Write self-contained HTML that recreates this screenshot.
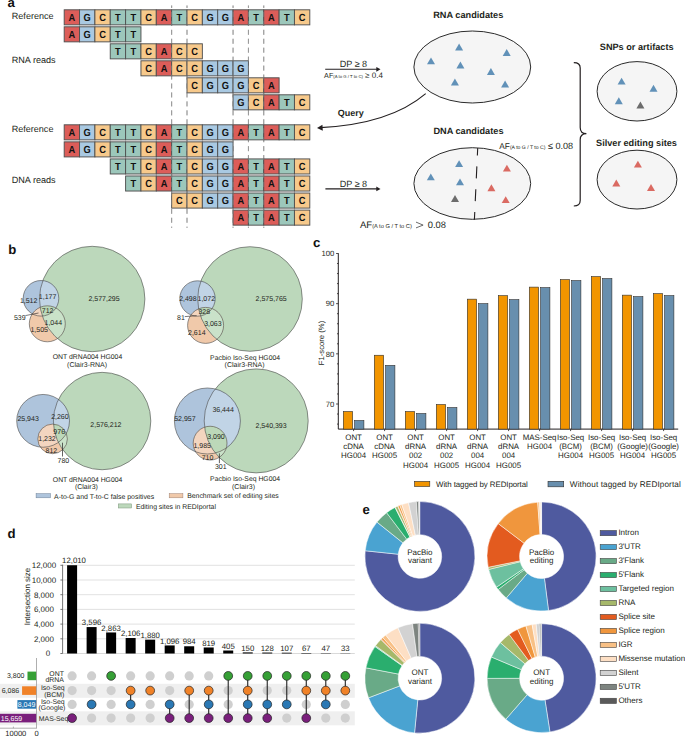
<!DOCTYPE html>
<html><head><meta charset="utf-8"><style>
html,body{margin:0;padding:0;background:#fff;}
body{width:685px;height:736px;overflow:hidden;}
svg{display:block;font-family:"Liberation Sans", sans-serif;text-rendering:geometricPrecision;}
</style></head><body>
<svg width="685" height="736" viewBox="0 0 685 736">
<line x1="171.65" y1="5.5" x2="171.65" y2="227.8" stroke="#8a8a8a" stroke-width="0.95" stroke-dasharray="5 3.95" stroke-dashoffset="2.55"/>
<line x1="187.00" y1="5.5" x2="187.00" y2="227.8" stroke="#8a8a8a" stroke-width="0.95" stroke-dasharray="5 3.95" stroke-dashoffset="2.55"/>
<line x1="233.05" y1="5.5" x2="233.05" y2="227.8" stroke="#8a8a8a" stroke-width="0.95" stroke-dasharray="5 3.95" stroke-dashoffset="2.55"/>
<line x1="248.40" y1="5.5" x2="248.40" y2="227.8" stroke="#8a8a8a" stroke-width="0.95" stroke-dasharray="5 3.95" stroke-dashoffset="2.55"/>
<line x1="263.75" y1="5.5" x2="263.75" y2="227.8" stroke="#8a8a8a" stroke-width="0.95" stroke-dasharray="5 3.95" stroke-dashoffset="2.55"/>
<rect x="64.20" y="9.80" width="15.35" height="15.05" fill="#dc5d59" stroke="#505050" stroke-width="0.95"/>
<text transform="translate(71.88,21.08) scale(0.9,1)" font-size="10.3" font-weight="bold" text-anchor="middle" fill="#111">A</text>
<rect x="79.55" y="9.80" width="15.35" height="15.05" fill="#a9c9e2" stroke="#505050" stroke-width="0.95"/>
<text transform="translate(87.22,21.08) scale(0.9,1)" font-size="10.3" font-weight="bold" text-anchor="middle" fill="#111">G</text>
<rect x="94.90" y="9.80" width="15.35" height="15.05" fill="#f7c98b" stroke="#505050" stroke-width="0.95"/>
<text transform="translate(102.58,21.08) scale(0.9,1)" font-size="10.3" font-weight="bold" text-anchor="middle" fill="#111">C</text>
<rect x="110.25" y="9.80" width="15.35" height="15.05" fill="#9cc7bb" stroke="#505050" stroke-width="0.95"/>
<text transform="translate(117.92,21.08) scale(0.9,1)" font-size="10.3" font-weight="bold" text-anchor="middle" fill="#111">T</text>
<rect x="125.60" y="9.80" width="15.35" height="15.05" fill="#9cc7bb" stroke="#505050" stroke-width="0.95"/>
<text transform="translate(133.28,21.08) scale(0.9,1)" font-size="10.3" font-weight="bold" text-anchor="middle" fill="#111">T</text>
<rect x="140.95" y="9.80" width="15.35" height="15.05" fill="#f7c98b" stroke="#505050" stroke-width="0.95"/>
<text transform="translate(148.62,21.08) scale(0.9,1)" font-size="10.3" font-weight="bold" text-anchor="middle" fill="#111">C</text>
<rect x="156.30" y="9.80" width="15.35" height="15.05" fill="#dc5d59" stroke="#505050" stroke-width="0.95"/>
<text transform="translate(163.98,21.08) scale(0.9,1)" font-size="10.3" font-weight="bold" text-anchor="middle" fill="#111">A</text>
<rect x="171.65" y="9.80" width="15.35" height="15.05" fill="#9cc7bb" stroke="#505050" stroke-width="0.95"/>
<text transform="translate(179.33,21.08) scale(0.9,1)" font-size="10.3" font-weight="bold" text-anchor="middle" fill="#111">T</text>
<rect x="187.00" y="9.80" width="15.35" height="15.05" fill="#f7c98b" stroke="#505050" stroke-width="0.95"/>
<text transform="translate(194.68,21.08) scale(0.9,1)" font-size="10.3" font-weight="bold" text-anchor="middle" fill="#111">C</text>
<rect x="202.35" y="9.80" width="15.35" height="15.05" fill="#a9c9e2" stroke="#505050" stroke-width="0.95"/>
<text transform="translate(210.03,21.08) scale(0.9,1)" font-size="10.3" font-weight="bold" text-anchor="middle" fill="#111">G</text>
<rect x="217.70" y="9.80" width="15.35" height="15.05" fill="#a9c9e2" stroke="#505050" stroke-width="0.95"/>
<text transform="translate(225.38,21.08) scale(0.9,1)" font-size="10.3" font-weight="bold" text-anchor="middle" fill="#111">G</text>
<rect x="233.05" y="9.80" width="15.35" height="15.05" fill="#dc5d59" stroke="#505050" stroke-width="0.95"/>
<text transform="translate(240.73,21.08) scale(0.9,1)" font-size="10.3" font-weight="bold" text-anchor="middle" fill="#111">A</text>
<rect x="248.40" y="9.80" width="15.35" height="15.05" fill="#9cc7bb" stroke="#505050" stroke-width="0.95"/>
<text transform="translate(256.07,21.08) scale(0.9,1)" font-size="10.3" font-weight="bold" text-anchor="middle" fill="#111">T</text>
<rect x="263.75" y="9.80" width="15.35" height="15.05" fill="#dc5d59" stroke="#505050" stroke-width="0.95"/>
<text transform="translate(271.43,21.08) scale(0.9,1)" font-size="10.3" font-weight="bold" text-anchor="middle" fill="#111">A</text>
<rect x="279.10" y="9.80" width="15.35" height="15.05" fill="#9cc7bb" stroke="#505050" stroke-width="0.95"/>
<text transform="translate(286.78,21.08) scale(0.9,1)" font-size="10.3" font-weight="bold" text-anchor="middle" fill="#111">T</text>
<rect x="294.45" y="9.80" width="15.35" height="15.05" fill="#f7c98b" stroke="#505050" stroke-width="0.95"/>
<text transform="translate(302.12,21.08) scale(0.9,1)" font-size="10.3" font-weight="bold" text-anchor="middle" fill="#111">C</text>
<rect x="64.20" y="26.80" width="15.35" height="15.05" fill="#dc5d59" stroke="#505050" stroke-width="0.95"/>
<text transform="translate(71.88,38.08) scale(0.9,1)" font-size="10.3" font-weight="bold" text-anchor="middle" fill="#111">A</text>
<rect x="79.55" y="26.80" width="15.35" height="15.05" fill="#a9c9e2" stroke="#505050" stroke-width="0.95"/>
<text transform="translate(87.22,38.08) scale(0.9,1)" font-size="10.3" font-weight="bold" text-anchor="middle" fill="#111">G</text>
<rect x="94.90" y="26.80" width="15.35" height="15.05" fill="#f7c98b" stroke="#505050" stroke-width="0.95"/>
<text transform="translate(102.58,38.08) scale(0.9,1)" font-size="10.3" font-weight="bold" text-anchor="middle" fill="#111">C</text>
<rect x="110.25" y="26.80" width="15.35" height="15.05" fill="#9cc7bb" stroke="#505050" stroke-width="0.95"/>
<text transform="translate(117.92,38.08) scale(0.9,1)" font-size="10.3" font-weight="bold" text-anchor="middle" fill="#111">T</text>
<rect x="125.60" y="26.80" width="15.35" height="15.05" fill="#9cc7bb" stroke="#505050" stroke-width="0.95"/>
<text transform="translate(133.28,38.08) scale(0.9,1)" font-size="10.3" font-weight="bold" text-anchor="middle" fill="#111">T</text>
<rect x="110.25" y="43.80" width="15.35" height="15.05" fill="#9cc7bb" stroke="#505050" stroke-width="0.95"/>
<text transform="translate(117.92,55.07) scale(0.9,1)" font-size="10.3" font-weight="bold" text-anchor="middle" fill="#111">T</text>
<rect x="125.60" y="43.80" width="15.35" height="15.05" fill="#9cc7bb" stroke="#505050" stroke-width="0.95"/>
<text transform="translate(133.28,55.07) scale(0.9,1)" font-size="10.3" font-weight="bold" text-anchor="middle" fill="#111">T</text>
<rect x="140.95" y="43.80" width="15.35" height="15.05" fill="#f7c98b" stroke="#505050" stroke-width="0.95"/>
<text transform="translate(148.62,55.07) scale(0.9,1)" font-size="10.3" font-weight="bold" text-anchor="middle" fill="#111">C</text>
<rect x="156.30" y="43.80" width="15.35" height="15.05" fill="#dc5d59" stroke="#505050" stroke-width="0.95"/>
<text transform="translate(163.98,55.07) scale(0.9,1)" font-size="10.3" font-weight="bold" text-anchor="middle" fill="#111">A</text>
<rect x="171.65" y="43.80" width="15.35" height="15.05" fill="#f7c98b" stroke="#505050" stroke-width="0.95"/>
<text transform="translate(179.33,55.07) scale(0.9,1)" font-size="10.3" font-weight="bold" text-anchor="middle" fill="#111">C</text>
<rect x="187.00" y="43.80" width="15.35" height="15.05" fill="#f7c98b" stroke="#505050" stroke-width="0.95"/>
<text transform="translate(194.68,55.07) scale(0.9,1)" font-size="10.3" font-weight="bold" text-anchor="middle" fill="#111">C</text>
<rect x="140.95" y="60.80" width="15.35" height="15.05" fill="#f7c98b" stroke="#505050" stroke-width="0.95"/>
<text transform="translate(148.62,72.08) scale(0.9,1)" font-size="10.3" font-weight="bold" text-anchor="middle" fill="#111">C</text>
<rect x="156.30" y="60.80" width="15.35" height="15.05" fill="#dc5d59" stroke="#505050" stroke-width="0.95"/>
<text transform="translate(163.98,72.08) scale(0.9,1)" font-size="10.3" font-weight="bold" text-anchor="middle" fill="#111">A</text>
<rect x="171.65" y="60.80" width="15.35" height="15.05" fill="#f7c98b" stroke="#505050" stroke-width="0.95"/>
<text transform="translate(179.33,72.08) scale(0.9,1)" font-size="10.3" font-weight="bold" text-anchor="middle" fill="#111">C</text>
<rect x="187.00" y="60.80" width="15.35" height="15.05" fill="#f7c98b" stroke="#505050" stroke-width="0.95"/>
<text transform="translate(194.68,72.08) scale(0.9,1)" font-size="10.3" font-weight="bold" text-anchor="middle" fill="#111">C</text>
<rect x="202.35" y="60.80" width="15.35" height="15.05" fill="#a9c9e2" stroke="#505050" stroke-width="0.95"/>
<text transform="translate(210.03,72.08) scale(0.9,1)" font-size="10.3" font-weight="bold" text-anchor="middle" fill="#111">G</text>
<rect x="217.70" y="60.80" width="15.35" height="15.05" fill="#a9c9e2" stroke="#505050" stroke-width="0.95"/>
<text transform="translate(225.38,72.08) scale(0.9,1)" font-size="10.3" font-weight="bold" text-anchor="middle" fill="#111">G</text>
<rect x="233.05" y="60.80" width="15.35" height="15.05" fill="#a9c9e2" stroke="#505050" stroke-width="0.95"/>
<text transform="translate(240.73,72.08) scale(0.9,1)" font-size="10.3" font-weight="bold" text-anchor="middle" fill="#111">G</text>
<rect x="187.00" y="77.80" width="15.35" height="15.05" fill="#f7c98b" stroke="#505050" stroke-width="0.95"/>
<text transform="translate(194.68,89.08) scale(0.9,1)" font-size="10.3" font-weight="bold" text-anchor="middle" fill="#111">C</text>
<rect x="202.35" y="77.80" width="15.35" height="15.05" fill="#a9c9e2" stroke="#505050" stroke-width="0.95"/>
<text transform="translate(210.03,89.08) scale(0.9,1)" font-size="10.3" font-weight="bold" text-anchor="middle" fill="#111">G</text>
<rect x="217.70" y="77.80" width="15.35" height="15.05" fill="#a9c9e2" stroke="#505050" stroke-width="0.95"/>
<text transform="translate(225.38,89.08) scale(0.9,1)" font-size="10.3" font-weight="bold" text-anchor="middle" fill="#111">G</text>
<rect x="233.05" y="77.80" width="15.35" height="15.05" fill="#a9c9e2" stroke="#505050" stroke-width="0.95"/>
<text transform="translate(240.73,89.08) scale(0.9,1)" font-size="10.3" font-weight="bold" text-anchor="middle" fill="#111">G</text>
<rect x="248.40" y="77.80" width="15.35" height="15.05" fill="#f7c98b" stroke="#505050" stroke-width="0.95"/>
<text transform="translate(256.07,89.08) scale(0.9,1)" font-size="10.3" font-weight="bold" text-anchor="middle" fill="#111">C</text>
<rect x="263.75" y="77.80" width="15.35" height="15.05" fill="#dc5d59" stroke="#505050" stroke-width="0.95"/>
<text transform="translate(271.43,89.08) scale(0.9,1)" font-size="10.3" font-weight="bold" text-anchor="middle" fill="#111">A</text>
<rect x="233.05" y="94.80" width="15.35" height="15.05" fill="#a9c9e2" stroke="#505050" stroke-width="0.95"/>
<text transform="translate(240.73,106.08) scale(0.9,1)" font-size="10.3" font-weight="bold" text-anchor="middle" fill="#111">G</text>
<rect x="248.40" y="94.80" width="15.35" height="15.05" fill="#f7c98b" stroke="#505050" stroke-width="0.95"/>
<text transform="translate(256.07,106.08) scale(0.9,1)" font-size="10.3" font-weight="bold" text-anchor="middle" fill="#111">C</text>
<rect x="263.75" y="94.80" width="15.35" height="15.05" fill="#dc5d59" stroke="#505050" stroke-width="0.95"/>
<text transform="translate(271.43,106.08) scale(0.9,1)" font-size="10.3" font-weight="bold" text-anchor="middle" fill="#111">A</text>
<rect x="279.10" y="94.80" width="15.35" height="15.05" fill="#9cc7bb" stroke="#505050" stroke-width="0.95"/>
<text transform="translate(286.78,106.08) scale(0.9,1)" font-size="10.3" font-weight="bold" text-anchor="middle" fill="#111">T</text>
<rect x="294.45" y="94.80" width="15.35" height="15.05" fill="#f7c98b" stroke="#505050" stroke-width="0.95"/>
<text transform="translate(302.12,106.08) scale(0.9,1)" font-size="10.3" font-weight="bold" text-anchor="middle" fill="#111">C</text>
<rect x="64.20" y="124.80" width="15.35" height="15.05" fill="#dc5d59" stroke="#505050" stroke-width="0.95"/>
<text transform="translate(71.88,136.07) scale(0.9,1)" font-size="10.3" font-weight="bold" text-anchor="middle" fill="#111">A</text>
<rect x="79.55" y="124.80" width="15.35" height="15.05" fill="#a9c9e2" stroke="#505050" stroke-width="0.95"/>
<text transform="translate(87.22,136.07) scale(0.9,1)" font-size="10.3" font-weight="bold" text-anchor="middle" fill="#111">G</text>
<rect x="94.90" y="124.80" width="15.35" height="15.05" fill="#f7c98b" stroke="#505050" stroke-width="0.95"/>
<text transform="translate(102.58,136.07) scale(0.9,1)" font-size="10.3" font-weight="bold" text-anchor="middle" fill="#111">C</text>
<rect x="110.25" y="124.80" width="15.35" height="15.05" fill="#9cc7bb" stroke="#505050" stroke-width="0.95"/>
<text transform="translate(117.92,136.07) scale(0.9,1)" font-size="10.3" font-weight="bold" text-anchor="middle" fill="#111">T</text>
<rect x="125.60" y="124.80" width="15.35" height="15.05" fill="#9cc7bb" stroke="#505050" stroke-width="0.95"/>
<text transform="translate(133.28,136.07) scale(0.9,1)" font-size="10.3" font-weight="bold" text-anchor="middle" fill="#111">T</text>
<rect x="140.95" y="124.80" width="15.35" height="15.05" fill="#f7c98b" stroke="#505050" stroke-width="0.95"/>
<text transform="translate(148.62,136.07) scale(0.9,1)" font-size="10.3" font-weight="bold" text-anchor="middle" fill="#111">C</text>
<rect x="156.30" y="124.80" width="15.35" height="15.05" fill="#dc5d59" stroke="#505050" stroke-width="0.95"/>
<text transform="translate(163.98,136.07) scale(0.9,1)" font-size="10.3" font-weight="bold" text-anchor="middle" fill="#111">A</text>
<rect x="171.65" y="124.80" width="15.35" height="15.05" fill="#9cc7bb" stroke="#505050" stroke-width="0.95"/>
<text transform="translate(179.33,136.07) scale(0.9,1)" font-size="10.3" font-weight="bold" text-anchor="middle" fill="#111">T</text>
<rect x="187.00" y="124.80" width="15.35" height="15.05" fill="#f7c98b" stroke="#505050" stroke-width="0.95"/>
<text transform="translate(194.68,136.07) scale(0.9,1)" font-size="10.3" font-weight="bold" text-anchor="middle" fill="#111">C</text>
<rect x="202.35" y="124.80" width="15.35" height="15.05" fill="#a9c9e2" stroke="#505050" stroke-width="0.95"/>
<text transform="translate(210.03,136.07) scale(0.9,1)" font-size="10.3" font-weight="bold" text-anchor="middle" fill="#111">G</text>
<rect x="217.70" y="124.80" width="15.35" height="15.05" fill="#a9c9e2" stroke="#505050" stroke-width="0.95"/>
<text transform="translate(225.38,136.07) scale(0.9,1)" font-size="10.3" font-weight="bold" text-anchor="middle" fill="#111">G</text>
<rect x="233.05" y="124.80" width="15.35" height="15.05" fill="#dc5d59" stroke="#505050" stroke-width="0.95"/>
<text transform="translate(240.73,136.07) scale(0.9,1)" font-size="10.3" font-weight="bold" text-anchor="middle" fill="#111">A</text>
<rect x="248.40" y="124.80" width="15.35" height="15.05" fill="#9cc7bb" stroke="#505050" stroke-width="0.95"/>
<text transform="translate(256.07,136.07) scale(0.9,1)" font-size="10.3" font-weight="bold" text-anchor="middle" fill="#111">T</text>
<rect x="263.75" y="124.80" width="15.35" height="15.05" fill="#dc5d59" stroke="#505050" stroke-width="0.95"/>
<text transform="translate(271.43,136.07) scale(0.9,1)" font-size="10.3" font-weight="bold" text-anchor="middle" fill="#111">A</text>
<rect x="279.10" y="124.80" width="15.35" height="15.05" fill="#9cc7bb" stroke="#505050" stroke-width="0.95"/>
<text transform="translate(286.78,136.07) scale(0.9,1)" font-size="10.3" font-weight="bold" text-anchor="middle" fill="#111">T</text>
<rect x="294.45" y="124.80" width="15.35" height="15.05" fill="#f7c98b" stroke="#505050" stroke-width="0.95"/>
<text transform="translate(302.12,136.07) scale(0.9,1)" font-size="10.3" font-weight="bold" text-anchor="middle" fill="#111">C</text>
<rect x="64.20" y="141.86" width="15.35" height="15.05" fill="#dc5d59" stroke="#505050" stroke-width="0.95"/>
<text transform="translate(71.88,153.13) scale(0.9,1)" font-size="10.3" font-weight="bold" text-anchor="middle" fill="#111">A</text>
<rect x="79.55" y="141.86" width="15.35" height="15.05" fill="#a9c9e2" stroke="#505050" stroke-width="0.95"/>
<text transform="translate(87.22,153.13) scale(0.9,1)" font-size="10.3" font-weight="bold" text-anchor="middle" fill="#111">G</text>
<rect x="94.90" y="141.86" width="15.35" height="15.05" fill="#f7c98b" stroke="#505050" stroke-width="0.95"/>
<text transform="translate(102.58,153.13) scale(0.9,1)" font-size="10.3" font-weight="bold" text-anchor="middle" fill="#111">C</text>
<rect x="110.25" y="141.86" width="15.35" height="15.05" fill="#9cc7bb" stroke="#505050" stroke-width="0.95"/>
<text transform="translate(117.92,153.13) scale(0.9,1)" font-size="10.3" font-weight="bold" text-anchor="middle" fill="#111">T</text>
<rect x="125.60" y="141.86" width="15.35" height="15.05" fill="#9cc7bb" stroke="#505050" stroke-width="0.95"/>
<text transform="translate(133.28,153.13) scale(0.9,1)" font-size="10.3" font-weight="bold" text-anchor="middle" fill="#111">T</text>
<rect x="140.95" y="141.86" width="15.35" height="15.05" fill="#f7c98b" stroke="#505050" stroke-width="0.95"/>
<text transform="translate(148.62,153.13) scale(0.9,1)" font-size="10.3" font-weight="bold" text-anchor="middle" fill="#111">C</text>
<rect x="156.30" y="141.86" width="15.35" height="15.05" fill="#dc5d59" stroke="#505050" stroke-width="0.95"/>
<text transform="translate(163.98,153.13) scale(0.9,1)" font-size="10.3" font-weight="bold" text-anchor="middle" fill="#111">A</text>
<rect x="171.65" y="141.86" width="15.35" height="15.05" fill="#9cc7bb" stroke="#505050" stroke-width="0.95"/>
<text transform="translate(179.33,153.13) scale(0.9,1)" font-size="10.3" font-weight="bold" text-anchor="middle" fill="#111">T</text>
<rect x="187.00" y="141.86" width="15.35" height="15.05" fill="#f7c98b" stroke="#505050" stroke-width="0.95"/>
<text transform="translate(194.68,153.13) scale(0.9,1)" font-size="10.3" font-weight="bold" text-anchor="middle" fill="#111">C</text>
<rect x="202.35" y="141.86" width="15.35" height="15.05" fill="#a9c9e2" stroke="#505050" stroke-width="0.95"/>
<text transform="translate(210.03,153.13) scale(0.9,1)" font-size="10.3" font-weight="bold" text-anchor="middle" fill="#111">G</text>
<rect x="217.70" y="141.86" width="15.35" height="15.05" fill="#a9c9e2" stroke="#505050" stroke-width="0.95"/>
<text transform="translate(225.38,153.13) scale(0.9,1)" font-size="10.3" font-weight="bold" text-anchor="middle" fill="#111">G</text>
<rect x="110.25" y="158.92" width="15.35" height="15.05" fill="#9cc7bb" stroke="#505050" stroke-width="0.95"/>
<text transform="translate(117.92,170.19) scale(0.9,1)" font-size="10.3" font-weight="bold" text-anchor="middle" fill="#111">T</text>
<rect x="125.60" y="158.92" width="15.35" height="15.05" fill="#9cc7bb" stroke="#505050" stroke-width="0.95"/>
<text transform="translate(133.28,170.19) scale(0.9,1)" font-size="10.3" font-weight="bold" text-anchor="middle" fill="#111">T</text>
<rect x="140.95" y="158.92" width="15.35" height="15.05" fill="#f7c98b" stroke="#505050" stroke-width="0.95"/>
<text transform="translate(148.62,170.19) scale(0.9,1)" font-size="10.3" font-weight="bold" text-anchor="middle" fill="#111">C</text>
<rect x="156.30" y="158.92" width="15.35" height="15.05" fill="#dc5d59" stroke="#505050" stroke-width="0.95"/>
<text transform="translate(163.98,170.19) scale(0.9,1)" font-size="10.3" font-weight="bold" text-anchor="middle" fill="#111">A</text>
<rect x="171.65" y="158.92" width="15.35" height="15.05" fill="#9cc7bb" stroke="#505050" stroke-width="0.95"/>
<text transform="translate(179.33,170.19) scale(0.9,1)" font-size="10.3" font-weight="bold" text-anchor="middle" fill="#111">T</text>
<rect x="187.00" y="158.92" width="15.35" height="15.05" fill="#f7c98b" stroke="#505050" stroke-width="0.95"/>
<text transform="translate(194.68,170.19) scale(0.9,1)" font-size="10.3" font-weight="bold" text-anchor="middle" fill="#111">C</text>
<rect x="202.35" y="158.92" width="15.35" height="15.05" fill="#a9c9e2" stroke="#505050" stroke-width="0.95"/>
<text transform="translate(210.03,170.19) scale(0.9,1)" font-size="10.3" font-weight="bold" text-anchor="middle" fill="#111">G</text>
<rect x="217.70" y="158.92" width="15.35" height="15.05" fill="#a9c9e2" stroke="#505050" stroke-width="0.95"/>
<text transform="translate(225.38,170.19) scale(0.9,1)" font-size="10.3" font-weight="bold" text-anchor="middle" fill="#111">G</text>
<rect x="233.05" y="158.92" width="15.35" height="15.05" fill="#dc5d59" stroke="#505050" stroke-width="0.95"/>
<text transform="translate(240.73,170.19) scale(0.9,1)" font-size="10.3" font-weight="bold" text-anchor="middle" fill="#111">A</text>
<rect x="248.40" y="158.92" width="15.35" height="15.05" fill="#9cc7bb" stroke="#505050" stroke-width="0.95"/>
<text transform="translate(256.07,170.19) scale(0.9,1)" font-size="10.3" font-weight="bold" text-anchor="middle" fill="#111">T</text>
<rect x="263.75" y="158.92" width="15.35" height="15.05" fill="#dc5d59" stroke="#505050" stroke-width="0.95"/>
<text transform="translate(271.43,170.19) scale(0.9,1)" font-size="10.3" font-weight="bold" text-anchor="middle" fill="#111">A</text>
<rect x="279.10" y="158.92" width="15.35" height="15.05" fill="#9cc7bb" stroke="#505050" stroke-width="0.95"/>
<text transform="translate(286.78,170.19) scale(0.9,1)" font-size="10.3" font-weight="bold" text-anchor="middle" fill="#111">T</text>
<rect x="294.45" y="158.92" width="15.35" height="15.05" fill="#f7c98b" stroke="#505050" stroke-width="0.95"/>
<text transform="translate(302.12,170.19) scale(0.9,1)" font-size="10.3" font-weight="bold" text-anchor="middle" fill="#111">C</text>
<rect x="125.60" y="175.98" width="15.35" height="15.05" fill="#9cc7bb" stroke="#505050" stroke-width="0.95"/>
<text transform="translate(133.28,187.25) scale(0.9,1)" font-size="10.3" font-weight="bold" text-anchor="middle" fill="#111">T</text>
<rect x="140.95" y="175.98" width="15.35" height="15.05" fill="#f7c98b" stroke="#505050" stroke-width="0.95"/>
<text transform="translate(148.62,187.25) scale(0.9,1)" font-size="10.3" font-weight="bold" text-anchor="middle" fill="#111">C</text>
<rect x="156.30" y="175.98" width="15.35" height="15.05" fill="#dc5d59" stroke="#505050" stroke-width="0.95"/>
<text transform="translate(163.98,187.25) scale(0.9,1)" font-size="10.3" font-weight="bold" text-anchor="middle" fill="#111">A</text>
<rect x="171.65" y="175.98" width="15.35" height="15.05" fill="#9cc7bb" stroke="#505050" stroke-width="0.95"/>
<text transform="translate(179.33,187.25) scale(0.9,1)" font-size="10.3" font-weight="bold" text-anchor="middle" fill="#111">T</text>
<rect x="187.00" y="175.98" width="15.35" height="15.05" fill="#f7c98b" stroke="#505050" stroke-width="0.95"/>
<text transform="translate(194.68,187.25) scale(0.9,1)" font-size="10.3" font-weight="bold" text-anchor="middle" fill="#111">C</text>
<rect x="202.35" y="175.98" width="15.35" height="15.05" fill="#a9c9e2" stroke="#505050" stroke-width="0.95"/>
<text transform="translate(210.03,187.25) scale(0.9,1)" font-size="10.3" font-weight="bold" text-anchor="middle" fill="#111">G</text>
<rect x="217.70" y="175.98" width="15.35" height="15.05" fill="#a9c9e2" stroke="#505050" stroke-width="0.95"/>
<text transform="translate(225.38,187.25) scale(0.9,1)" font-size="10.3" font-weight="bold" text-anchor="middle" fill="#111">G</text>
<rect x="233.05" y="175.98" width="15.35" height="15.05" fill="#dc5d59" stroke="#505050" stroke-width="0.95"/>
<text transform="translate(240.73,187.25) scale(0.9,1)" font-size="10.3" font-weight="bold" text-anchor="middle" fill="#111">A</text>
<rect x="248.40" y="175.98" width="15.35" height="15.05" fill="#9cc7bb" stroke="#505050" stroke-width="0.95"/>
<text transform="translate(256.07,187.25) scale(0.9,1)" font-size="10.3" font-weight="bold" text-anchor="middle" fill="#111">T</text>
<rect x="263.75" y="175.98" width="15.35" height="15.05" fill="#dc5d59" stroke="#505050" stroke-width="0.95"/>
<text transform="translate(271.43,187.25) scale(0.9,1)" font-size="10.3" font-weight="bold" text-anchor="middle" fill="#111">A</text>
<rect x="279.10" y="175.98" width="15.35" height="15.05" fill="#9cc7bb" stroke="#505050" stroke-width="0.95"/>
<text transform="translate(286.78,187.25) scale(0.9,1)" font-size="10.3" font-weight="bold" text-anchor="middle" fill="#111">T</text>
<rect x="294.45" y="175.98" width="15.35" height="15.05" fill="#f7c98b" stroke="#505050" stroke-width="0.95"/>
<text transform="translate(302.12,187.25) scale(0.9,1)" font-size="10.3" font-weight="bold" text-anchor="middle" fill="#111">C</text>
<rect x="171.65" y="193.04" width="15.35" height="15.05" fill="#f7c98b" stroke="#505050" stroke-width="0.95"/>
<text transform="translate(179.33,204.31) scale(0.9,1)" font-size="10.3" font-weight="bold" text-anchor="middle" fill="#111">C</text>
<rect x="187.00" y="193.04" width="15.35" height="15.05" fill="#f7c98b" stroke="#505050" stroke-width="0.95"/>
<text transform="translate(194.68,204.31) scale(0.9,1)" font-size="10.3" font-weight="bold" text-anchor="middle" fill="#111">C</text>
<rect x="202.35" y="193.04" width="15.35" height="15.05" fill="#a9c9e2" stroke="#505050" stroke-width="0.95"/>
<text transform="translate(210.03,204.31) scale(0.9,1)" font-size="10.3" font-weight="bold" text-anchor="middle" fill="#111">G</text>
<rect x="217.70" y="193.04" width="15.35" height="15.05" fill="#a9c9e2" stroke="#505050" stroke-width="0.95"/>
<text transform="translate(225.38,204.31) scale(0.9,1)" font-size="10.3" font-weight="bold" text-anchor="middle" fill="#111">G</text>
<rect x="233.05" y="193.04" width="15.35" height="15.05" fill="#dc5d59" stroke="#505050" stroke-width="0.95"/>
<text transform="translate(240.73,204.31) scale(0.9,1)" font-size="10.3" font-weight="bold" text-anchor="middle" fill="#111">A</text>
<rect x="248.40" y="193.04" width="15.35" height="15.05" fill="#9cc7bb" stroke="#505050" stroke-width="0.95"/>
<text transform="translate(256.07,204.31) scale(0.9,1)" font-size="10.3" font-weight="bold" text-anchor="middle" fill="#111">T</text>
<rect x="263.75" y="193.04" width="15.35" height="15.05" fill="#dc5d59" stroke="#505050" stroke-width="0.95"/>
<text transform="translate(271.43,204.31) scale(0.9,1)" font-size="10.3" font-weight="bold" text-anchor="middle" fill="#111">A</text>
<rect x="279.10" y="193.04" width="15.35" height="15.05" fill="#9cc7bb" stroke="#505050" stroke-width="0.95"/>
<text transform="translate(286.78,204.31) scale(0.9,1)" font-size="10.3" font-weight="bold" text-anchor="middle" fill="#111">T</text>
<rect x="294.45" y="193.04" width="15.35" height="15.05" fill="#f7c98b" stroke="#505050" stroke-width="0.95"/>
<text transform="translate(302.12,204.31) scale(0.9,1)" font-size="10.3" font-weight="bold" text-anchor="middle" fill="#111">C</text>
<rect x="233.05" y="210.10" width="15.35" height="15.05" fill="#dc5d59" stroke="#505050" stroke-width="0.95"/>
<text transform="translate(240.73,221.38) scale(0.9,1)" font-size="10.3" font-weight="bold" text-anchor="middle" fill="#111">A</text>
<rect x="248.40" y="210.10" width="15.35" height="15.05" fill="#9cc7bb" stroke="#505050" stroke-width="0.95"/>
<text transform="translate(256.07,221.38) scale(0.9,1)" font-size="10.3" font-weight="bold" text-anchor="middle" fill="#111">T</text>
<rect x="263.75" y="210.10" width="15.35" height="15.05" fill="#dc5d59" stroke="#505050" stroke-width="0.95"/>
<text transform="translate(271.43,221.38) scale(0.9,1)" font-size="10.3" font-weight="bold" text-anchor="middle" fill="#111">A</text>
<rect x="279.10" y="210.10" width="15.35" height="15.05" fill="#9cc7bb" stroke="#505050" stroke-width="0.95"/>
<text transform="translate(286.78,221.38) scale(0.9,1)" font-size="10.3" font-weight="bold" text-anchor="middle" fill="#111">T</text>
<rect x="294.45" y="210.10" width="15.35" height="15.05" fill="#f7c98b" stroke="#505050" stroke-width="0.95"/>
<text transform="translate(302.12,221.38) scale(0.9,1)" font-size="10.3" font-weight="bold" text-anchor="middle" fill="#111">C</text>
<line x1="171.65" y1="5.5" x2="171.65" y2="227.8" stroke="#9a9a9a" stroke-width="0.8" stroke-dasharray="5 3.95" stroke-dashoffset="2.55" opacity="0.6"/>
<line x1="187.00" y1="5.5" x2="187.00" y2="227.8" stroke="#9a9a9a" stroke-width="0.8" stroke-dasharray="5 3.95" stroke-dashoffset="2.55" opacity="0.6"/>
<line x1="233.05" y1="5.5" x2="233.05" y2="227.8" stroke="#9a9a9a" stroke-width="0.8" stroke-dasharray="5 3.95" stroke-dashoffset="2.55" opacity="0.6"/>
<line x1="248.40" y1="5.5" x2="248.40" y2="227.8" stroke="#9a9a9a" stroke-width="0.8" stroke-dasharray="5 3.95" stroke-dashoffset="2.55" opacity="0.6"/>
<line x1="263.75" y1="5.5" x2="263.75" y2="227.8" stroke="#9a9a9a" stroke-width="0.8" stroke-dasharray="5 3.95" stroke-dashoffset="2.55" opacity="0.6"/>
<text x="7.60" y="7.30" font-size="13.2" font-weight="bold" fill="#111">a</text>
<text x="11.80" y="18.80" font-size="9.06" fill="#231f20">Reference</text>
<text x="11.70" y="62.80" font-size="9.1" fill="#231f20">RNA reads</text>
<text x="11.70" y="132.00" font-size="9.06" fill="#231f20">Reference</text>
<text x="11.70" y="182.60" font-size="9.1" fill="#231f20">DNA reads</text>
<line x1="325.2" y1="69.3" x2="377.5" y2="69.3" stroke="#231f20" stroke-width="1.1"/>
<path d="M380.5,69.3 L376.3,66.89999999999999 L376.3,71.7 Z" fill="#231f20"/>
<text x="339.70" y="66.80" font-size="9.07" fill="#231f20">DP ≥ 8</text>
<text x="324.1" y="77.7" fill="#231f20"><tspan font-size="7.2">AF</tspan><tspan font-size="4.25">(A to G / T to C)</tspan><tspan font-size="8.0"> ≥ 0.4</tspan></text>
<ellipse cx="472.3" cy="67" rx="58.4" ry="36" fill="#f5f5f5" stroke="#2b2b2b" stroke-width="1"/>
<text x="433.20" y="17.91" font-size="9.2" font-weight="bold" fill="#231f20">RNA candidates</text>
<path d="M459.10,43.60 L463.10,50.50 L455.10,50.50 Z" fill="#6191b8"/>
<path d="M506.70,49.00 L510.70,55.90 L502.70,55.90 Z" fill="#6191b8"/>
<path d="M431.00,57.40 L435.00,64.30 L427.00,64.30 Z" fill="#6191b8"/>
<path d="M460.40,61.60 L464.40,68.50 L456.40,68.50 Z" fill="#6191b8"/>
<path d="M490.90,68.00 L494.90,74.90 L486.90,74.90 Z" fill="#6191b8"/>
<path d="M454.90,78.50 L458.90,85.40 L450.90,85.40 Z" fill="#6191b8"/>
<path d="M505.10,80.60 L509.10,87.50 L501.10,87.50 Z" fill="#6191b8"/>
<path d="M425.7,93.6 Q390,124 320.5,127.6" fill="none" stroke="#231f20" stroke-width="1.1"/>
<path d="M317.0,127.9 L322.4,124.7 L322.8,130.8 Z" fill="#231f20"/>
<text x="337.80" y="116.24" font-size="9.0" font-weight="bold" fill="#231f20">Query</text>
<line x1="325.4" y1="188.9" x2="377.5" y2="188.9" stroke="#231f20" stroke-width="1.1"/>
<path d="M380.5,188.9 L376.3,186.5 L376.3,191.3 Z" fill="#231f20"/>
<text x="339.70" y="187.10" font-size="9.07" fill="#231f20">DP ≥ 8</text>
<ellipse cx="472.3" cy="183.5" rx="58.4" ry="35.8" fill="#f5f5f5" stroke="#2b2b2b" stroke-width="1"/>
<text x="433.40" y="134.31" font-size="9.2" font-weight="bold" fill="#231f20">DNA candidates</text>
<line x1="477.7" y1="148.1" x2="474.4" y2="219.8" stroke="#231f20" stroke-width="1.1" stroke-dasharray="12 10.8" stroke-dashoffset="4.5"/>
<path d="M459.10,160.20 L463.10,167.10 L455.10,167.10 Z" fill="#6191b8"/>
<path d="M430.80,173.40 L434.80,180.30 L426.80,180.30 Z" fill="#6191b8"/>
<path d="M460.00,178.40 L464.00,185.30 L456.00,185.30 Z" fill="#6191b8"/>
<path d="M455.00,195.00 L459.00,201.90 L451.00,201.90 Z" fill="#6c6c6c"/>
<path d="M506.90,164.70 L510.90,171.60 L502.90,171.60 Z" fill="#da6a62"/>
<path d="M491.40,184.30 L495.40,191.20 L487.40,191.20 Z" fill="#da6a62"/>
<path d="M505.70,196.20 L509.70,203.10 L501.70,203.10 Z" fill="#da6a62"/>
<text x="499.3" y="148.9" fill="#231f20"><tspan font-size="8.3">AF</tspan><tspan font-size="5.1">(A to G / T to C)</tspan><tspan font-size="9.1"> ≤ 0.08</tspan></text>
<text x="359.9" y="228.0" fill="#231f20"><tspan font-size="9.6">AF</tspan><tspan font-size="5.7">(A to G / T to C)</tspan></text>
<path d="M416,222.1 L423.1,225.1 L416,227.9" fill="none" stroke="#3a3a3a" stroke-width="0.75"/>
<text x="427.70" y="227.90" font-size="9.4" fill="#231f20">0.08</text>
<path d="M573.8,62.7 Q580.2,62.7 580.2,68 L580.2,127.5 Q580.2,133.6 586.4,133.6 Q580.2,133.6 580.2,139.7 L580.2,200.5 Q580.2,206 573.8,206" fill="none" stroke="#231f20" stroke-width="1.2"/>
<ellipse cx="637" cy="91.3" rx="39.9" ry="29.7" fill="#f5f5f5" stroke="#2b2b2b" stroke-width="1"/>
<text x="636.70" y="50.10" font-size="9.17" font-weight="bold" text-anchor="middle" fill="#231f20">SNPs or artifacts</text>
<path d="M621.60,77.70 L625.60,84.60 L617.60,84.60 Z" fill="#6191b8"/>
<path d="M653.50,84.80 L657.50,91.70 L649.50,91.70 Z" fill="#6191b8"/>
<path d="M618.80,97.30 L622.80,104.20 L614.80,104.20 Z" fill="#6191b8"/>
<path d="M640.40,101.60 L644.40,108.50 L636.40,108.50 Z" fill="#6c6c6c"/>
<ellipse cx="637" cy="179.6" rx="39.9" ry="29.4" fill="#f5f5f5" stroke="#2b2b2b" stroke-width="1"/>
<text x="636.50" y="146.40" font-size="9.16" font-weight="bold" text-anchor="middle" fill="#231f20">Silver editing sites</text>
<path d="M637.90,160.70 L641.90,167.60 L633.90,167.60 Z" fill="#da6a62"/>
<path d="M616.30,179.50 L620.30,186.40 L612.30,186.40 Z" fill="#da6a62"/>
<path d="M651.00,184.10 L655.00,191.00 L647.00,191.00 Z" fill="#da6a62"/>
<defs><clipPath id="cg1"><circle cx="92.2" cy="299" r="52.7"/></clipPath><clipPath id="cb1"><circle cx="41" cy="298.3" r="17.8"/></clipPath><clipPath id="co1"><circle cx="47.3" cy="323.8" r="18"/></clipPath></defs>
<circle cx="92.2" cy="299" r="52.7" fill="#bcd8bb"/>
<circle cx="41" cy="298.3" r="17.8" fill="#aec4dc"/>
<circle cx="47.3" cy="323.8" r="18" fill="#f0c9aa"/>
<g clip-path="url(#cg1)"><circle cx="41" cy="298.3" r="17.8" fill="#c1d4e6"/><circle cx="47.3" cy="323.8" r="18" fill="#cae2c9"/></g>
<g clip-path="url(#cb1)"><circle cx="47.3" cy="323.8" r="18" fill="#f3d5bf"/></g>
<g clip-path="url(#cb1)"><g clip-path="url(#cg1)"><circle cx="47.3" cy="323.8" r="18" fill="#bcd8b9"/></g></g>
<circle cx="92.2" cy="299" r="52.7" fill="none" stroke="#484848" stroke-width="0.6"/>
<circle cx="41" cy="298.3" r="17.8" fill="none" stroke="#484848" stroke-width="0.6"/>
<circle cx="47.3" cy="323.8" r="18" fill="none" stroke="#484848" stroke-width="0.6"/>
<text x="28.65" y="302.82" font-size="7.0" text-anchor="middle" fill="#231f20">1,512</text>
<text x="47.60" y="299.32" font-size="7.0" text-anchor="middle" fill="#231f20">1,177</text>
<text x="47.60" y="312.82" font-size="7.0" text-anchor="middle" fill="#231f20">712</text>
<text x="19.80" y="319.72" font-size="7.0" text-anchor="middle" fill="#231f20">539</text>
<text x="53.30" y="324.72" font-size="7.0" text-anchor="middle" fill="#231f20">1,044</text>
<text x="39.20" y="332.22" font-size="7.0" text-anchor="middle" fill="#231f20">1,505</text>
<text x="104.00" y="300.92" font-size="7.0" text-anchor="middle" fill="#231f20">2,577,295</text>
<line x1="25.4" y1="315.6" x2="38.5" y2="313" stroke="#231f20" stroke-width="0.6"/>
<text x="87.50" y="359.07" font-size="6.85" text-anchor="middle" fill="#231f20">ONT dRNA004 HG004</text>
<text x="87.10" y="366.52" font-size="7.0" text-anchor="middle" fill="#231f20">(Clair3-RNA)</text>
<defs><clipPath id="cg2"><circle cx="250" cy="299" r="52.3"/></clipPath><clipPath id="cb2"><circle cx="197.5" cy="298.5" r="17.7"/></clipPath><clipPath id="co2"><circle cx="205.6" cy="325.4" r="18"/></clipPath></defs>
<circle cx="250" cy="299" r="52.3" fill="#bcd8bb"/>
<circle cx="197.5" cy="298.5" r="17.7" fill="#aec4dc"/>
<circle cx="205.6" cy="325.4" r="18" fill="#f0c9aa"/>
<g clip-path="url(#cg2)"><circle cx="197.5" cy="298.5" r="17.7" fill="#c1d4e6"/><circle cx="205.6" cy="325.4" r="18" fill="#cae2c9"/></g>
<g clip-path="url(#cb2)"><circle cx="205.6" cy="325.4" r="18" fill="#f3d5bf"/></g>
<g clip-path="url(#cb2)"><g clip-path="url(#cg2)"><circle cx="205.6" cy="325.4" r="18" fill="#bcd8b9"/></g></g>
<circle cx="250" cy="299" r="52.3" fill="none" stroke="#484848" stroke-width="0.6"/>
<circle cx="197.5" cy="298.5" r="17.7" fill="none" stroke="#484848" stroke-width="0.6"/>
<circle cx="205.6" cy="325.4" r="18" fill="none" stroke="#484848" stroke-width="0.6"/>
<text x="187.90" y="301.32" font-size="7.0" text-anchor="middle" fill="#231f20">2,498</text>
<text x="206.30" y="301.32" font-size="7.0" text-anchor="middle" fill="#231f20">1,072</text>
<text x="204.30" y="313.52" font-size="7.0" text-anchor="middle" fill="#231f20">328</text>
<text x="180.90" y="319.72" font-size="7.0" text-anchor="middle" fill="#231f20">81</text>
<text x="212.90" y="325.82" font-size="7.0" text-anchor="middle" fill="#231f20">3,063</text>
<text x="196.80" y="335.22" font-size="7.0" text-anchor="middle" fill="#231f20">2,614</text>
<text x="271.20" y="300.92" font-size="7.0" text-anchor="middle" fill="#231f20">2,575,765</text>
<line x1="184.8" y1="316.6" x2="196.6" y2="315.7" stroke="#231f20" stroke-width="0.6"/>
<text x="245.10" y="359.67" font-size="6.85" text-anchor="middle" fill="#231f20">Pacbio Iso-Seq HG004</text>
<text x="244.60" y="366.72" font-size="7.0" text-anchor="middle" fill="#231f20">(Clair3-RNA)</text>
<defs><clipPath id="cg3"><circle cx="102.1" cy="421.05" r="48.7"/></clipPath><clipPath id="cb3"><circle cx="43.1" cy="420.85" r="26.4"/></clipPath><clipPath id="co3"><circle cx="52.6" cy="438.9" r="14.8"/></clipPath></defs>
<circle cx="102.1" cy="421.05" r="48.7" fill="#bcd8bb"/>
<circle cx="43.1" cy="420.85" r="26.4" fill="#aec4dc"/>
<circle cx="52.6" cy="438.9" r="14.8" fill="#f0c9aa"/>
<g clip-path="url(#cg3)"><circle cx="43.1" cy="420.85" r="26.4" fill="#c1d4e6"/><circle cx="52.6" cy="438.9" r="14.8" fill="#cae2c9"/></g>
<g clip-path="url(#cb3)"><circle cx="52.6" cy="438.9" r="14.8" fill="#f3d5bf"/></g>
<g clip-path="url(#cb3)"><g clip-path="url(#cg3)"><circle cx="52.6" cy="438.9" r="14.8" fill="#bcd8b9"/></g></g>
<circle cx="102.1" cy="421.05" r="48.7" fill="none" stroke="#484848" stroke-width="0.6"/>
<circle cx="43.1" cy="420.85" r="26.4" fill="none" stroke="#484848" stroke-width="0.6"/>
<circle cx="52.6" cy="438.9" r="14.8" fill="none" stroke="#484848" stroke-width="0.6"/>
<text x="28.10" y="421.12" font-size="7.0" text-anchor="middle" fill="#231f20">25,943</text>
<text x="59.90" y="419.02" font-size="7.0" text-anchor="middle" fill="#231f20">2,260</text>
<text x="59.20" y="433.62" font-size="7.0" text-anchor="middle" fill="#231f20">976</text>
<text x="47.00" y="440.92" font-size="7.0" text-anchor="middle" fill="#231f20">1,232</text>
<text x="51.40" y="452.52" font-size="7.0" text-anchor="middle" fill="#231f20">812</text>
<text x="63.40" y="463.22" font-size="7.0" text-anchor="middle" fill="#231f20">780</text>
<text x="105.90" y="427.32" font-size="7.0" text-anchor="middle" fill="#231f20">2,576,212</text>
<line x1="62.5" y1="442.7" x2="62.5" y2="456.5" stroke="#231f20" stroke-width="0.7"/>
<text x="87.60" y="481.97" font-size="6.85" text-anchor="middle" fill="#231f20">ONT dRNA004 HG004</text>
<text x="86.40" y="489.02" font-size="7.0" text-anchor="middle" fill="#231f20">(Clair3)</text>
<defs><clipPath id="cg4"><circle cx="256.2" cy="420.9" r="52"/></clipPath><clipPath id="cb4"><circle cx="207.4" cy="421" r="33"/></clipPath><clipPath id="co4"><circle cx="210.1" cy="443.15" r="16.9"/></clipPath></defs>
<circle cx="256.2" cy="420.9" r="52" fill="#bcd8bb"/>
<circle cx="207.4" cy="421" r="33" fill="#aec4dc"/>
<circle cx="210.1" cy="443.15" r="16.9" fill="#f0c9aa"/>
<g clip-path="url(#cg4)"><circle cx="207.4" cy="421" r="33" fill="#c1d4e6"/><circle cx="210.1" cy="443.15" r="16.9" fill="#cae2c9"/></g>
<g clip-path="url(#cb4)"><circle cx="210.1" cy="443.15" r="16.9" fill="#f3d5bf"/></g>
<g clip-path="url(#cb4)"><g clip-path="url(#cg4)"><circle cx="210.1" cy="443.15" r="16.9" fill="#bcd8b9"/></g></g>
<circle cx="256.2" cy="420.9" r="52" fill="none" stroke="#484848" stroke-width="0.6"/>
<circle cx="207.4" cy="421" r="33" fill="none" stroke="#484848" stroke-width="0.6"/>
<circle cx="210.1" cy="443.15" r="16.9" fill="none" stroke="#484848" stroke-width="0.6"/>
<text x="223.10" y="412.22" font-size="7.0" text-anchor="middle" fill="#231f20">36,444</text>
<text x="184.90" y="421.02" font-size="7.0" text-anchor="middle" fill="#231f20">52,957</text>
<text x="271.10" y="427.82" font-size="7.0" text-anchor="middle" fill="#231f20">2,540,393</text>
<text x="216.00" y="439.02" font-size="7.0" text-anchor="middle" fill="#231f20">3,090</text>
<text x="202.20" y="447.92" font-size="7.0" text-anchor="middle" fill="#231f20">1,985</text>
<text x="207.50" y="459.82" font-size="7.0" text-anchor="middle" fill="#231f20">710</text>
<text x="220.80" y="468.72" font-size="7.0" text-anchor="middle" fill="#231f20">301</text>
<line x1="219.4" y1="453.4" x2="219.4" y2="463.2" stroke="#231f20" stroke-width="0.7"/>
<text x="245.10" y="481.27" font-size="6.85" text-anchor="middle" fill="#231f20">Pacbio Iso-Seq HG004</text>
<text x="243.50" y="488.52" font-size="7.0" text-anchor="middle" fill="#231f20">(Clair3)</text>
<text x="8.20" y="254.00" font-size="13.2" font-weight="bold" fill="#111">b</text>
<rect x="36.1" y="493.7" width="14.3" height="4.1" fill="#aec4dc" stroke="#6a7f96" stroke-width="0.5"/>
<text x="54.10" y="498.69" font-size="6.92" fill="#231f20">A-to-G and T-to-C false positives</text>
<rect x="169.2" y="493.7" width="13.7" height="4.1" fill="#f0c9aa" stroke="#a08070" stroke-width="0.5"/>
<text x="187.20" y="498.47" font-size="6.87" fill="#231f20">Benchmark set of editing sites</text>
<rect x="118.3" y="503.9" width="13.3" height="4.1" fill="#bcd8bb" stroke="#7c967c" stroke-width="0.5"/>
<text x="135.90" y="508.88" font-size="6.9" fill="#231f20">Editing sites in REDIportal</text>
<text x="313.10" y="246.90" font-size="13.2" font-weight="bold" fill="#111">c</text>
<line x1="338.3" y1="253.2" x2="338.3" y2="429.1" stroke="#231f20" stroke-width="1"/>
<line x1="337.00" y1="424.08" x2="338.3" y2="424.08" stroke="#231f20" stroke-width="0.8"/>
<line x1="337.00" y1="414.04" x2="338.3" y2="414.04" stroke="#231f20" stroke-width="0.8"/>
<line x1="336.10" y1="404.01" x2="338.3" y2="404.01" stroke="#231f20" stroke-width="0.8"/>
<line x1="337.00" y1="393.98" x2="338.3" y2="393.98" stroke="#231f20" stroke-width="0.8"/>
<line x1="337.00" y1="383.94" x2="338.3" y2="383.94" stroke="#231f20" stroke-width="0.8"/>
<line x1="337.00" y1="373.91" x2="338.3" y2="373.91" stroke="#231f20" stroke-width="0.8"/>
<line x1="337.00" y1="363.87" x2="338.3" y2="363.87" stroke="#231f20" stroke-width="0.8"/>
<line x1="336.10" y1="353.84" x2="338.3" y2="353.84" stroke="#231f20" stroke-width="0.8"/>
<line x1="337.00" y1="343.81" x2="338.3" y2="343.81" stroke="#231f20" stroke-width="0.8"/>
<line x1="337.00" y1="333.77" x2="338.3" y2="333.77" stroke="#231f20" stroke-width="0.8"/>
<line x1="337.00" y1="323.74" x2="338.3" y2="323.74" stroke="#231f20" stroke-width="0.8"/>
<line x1="337.00" y1="313.70" x2="338.3" y2="313.70" stroke="#231f20" stroke-width="0.8"/>
<line x1="336.10" y1="303.67" x2="338.3" y2="303.67" stroke="#231f20" stroke-width="0.8"/>
<line x1="337.00" y1="293.64" x2="338.3" y2="293.64" stroke="#231f20" stroke-width="0.8"/>
<line x1="337.00" y1="283.60" x2="338.3" y2="283.60" stroke="#231f20" stroke-width="0.8"/>
<line x1="337.00" y1="273.57" x2="338.3" y2="273.57" stroke="#231f20" stroke-width="0.8"/>
<line x1="337.00" y1="263.53" x2="338.3" y2="263.53" stroke="#231f20" stroke-width="0.8"/>
<line x1="336.10" y1="253.50" x2="338.3" y2="253.50" stroke="#231f20" stroke-width="0.8"/>
<text x="334.30" y="256.27" font-size="7.7" text-anchor="end" fill="#231f20">100</text>
<text x="334.30" y="306.44" font-size="7.7" text-anchor="end" fill="#231f20">90</text>
<text x="334.30" y="356.61" font-size="7.7" text-anchor="end" fill="#231f20">80</text>
<text x="334.30" y="406.78" font-size="7.7" text-anchor="end" fill="#231f20">70</text>
<text transform="translate(323.7,343) rotate(-90)" font-size="7.7" text-anchor="middle" fill="#231f20">F1-score (%)</text>
<line x1="338.3" y1="429.1" x2="678.2" y2="429.1" stroke="#231f20" stroke-width="1"/>
<rect x="343.30" y="411.53" width="9.3" height="17.57" fill="#f29500" stroke="#2e2e2e" stroke-width="0.6"/>
<rect x="354.60" y="420.56" width="9.3" height="8.54" fill="#688fae" stroke="#2e2e2e" stroke-width="0.6"/>
<line x1="353.60" y1="429.1" x2="353.60" y2="431.1" stroke="#231f20" stroke-width="0.8"/>
<text x="353.60" y="439.64" font-size="7.9" text-anchor="middle" fill="#231f20">ONT</text>
<text x="353.60" y="449.04" font-size="7.9" text-anchor="middle" fill="#231f20">cDNA</text>
<text x="353.60" y="458.44" font-size="7.9" text-anchor="middle" fill="#231f20">HG004</text>
<rect x="374.30" y="355.24" width="9.3" height="73.86" fill="#f29500" stroke="#2e2e2e" stroke-width="0.6"/>
<rect x="385.60" y="365.38" width="9.3" height="63.72" fill="#688fae" stroke="#2e2e2e" stroke-width="0.6"/>
<line x1="384.60" y1="429.1" x2="384.60" y2="431.1" stroke="#231f20" stroke-width="0.8"/>
<text x="384.60" y="439.64" font-size="7.9" text-anchor="middle" fill="#231f20">ONT</text>
<text x="384.60" y="449.04" font-size="7.9" text-anchor="middle" fill="#231f20">cDNA</text>
<text x="384.60" y="458.44" font-size="7.9" text-anchor="middle" fill="#231f20">HG005</text>
<rect x="405.30" y="411.53" width="9.3" height="17.57" fill="#f29500" stroke="#2e2e2e" stroke-width="0.6"/>
<rect x="416.60" y="413.54" width="9.3" height="15.56" fill="#688fae" stroke="#2e2e2e" stroke-width="0.6"/>
<line x1="415.60" y1="429.1" x2="415.60" y2="431.1" stroke="#231f20" stroke-width="0.8"/>
<text x="415.60" y="439.64" font-size="7.9" text-anchor="middle" fill="#231f20">ONT</text>
<text x="415.60" y="449.04" font-size="7.9" text-anchor="middle" fill="#231f20">dRNA</text>
<text x="415.60" y="458.44" font-size="7.9" text-anchor="middle" fill="#231f20">002</text>
<text x="415.60" y="467.84" font-size="7.9" text-anchor="middle" fill="#231f20">HG004</text>
<rect x="436.30" y="404.51" width="9.3" height="24.59" fill="#f29500" stroke="#2e2e2e" stroke-width="0.6"/>
<rect x="447.60" y="407.52" width="9.3" height="21.58" fill="#688fae" stroke="#2e2e2e" stroke-width="0.6"/>
<line x1="446.60" y1="429.1" x2="446.60" y2="431.1" stroke="#231f20" stroke-width="0.8"/>
<text x="446.60" y="439.64" font-size="7.9" text-anchor="middle" fill="#231f20">ONT</text>
<text x="446.60" y="449.04" font-size="7.9" text-anchor="middle" fill="#231f20">dRNA</text>
<text x="446.60" y="458.44" font-size="7.9" text-anchor="middle" fill="#231f20">002</text>
<text x="446.60" y="467.84" font-size="7.9" text-anchor="middle" fill="#231f20">HG005</text>
<rect x="467.30" y="299.15" width="9.3" height="129.95" fill="#f29500" stroke="#2e2e2e" stroke-width="0.6"/>
<rect x="478.60" y="303.67" width="9.3" height="125.43" fill="#688fae" stroke="#2e2e2e" stroke-width="0.6"/>
<line x1="477.60" y1="429.1" x2="477.60" y2="431.1" stroke="#231f20" stroke-width="0.8"/>
<text x="477.60" y="439.64" font-size="7.9" text-anchor="middle" fill="#231f20">ONT</text>
<text x="477.60" y="449.04" font-size="7.9" text-anchor="middle" fill="#231f20">dRNA</text>
<text x="477.60" y="458.44" font-size="7.9" text-anchor="middle" fill="#231f20">004</text>
<text x="477.60" y="467.84" font-size="7.9" text-anchor="middle" fill="#231f20">HG004</text>
<rect x="498.30" y="295.64" width="9.3" height="133.46" fill="#f29500" stroke="#2e2e2e" stroke-width="0.6"/>
<rect x="509.60" y="299.65" width="9.3" height="129.45" fill="#688fae" stroke="#2e2e2e" stroke-width="0.6"/>
<line x1="508.60" y1="429.1" x2="508.60" y2="431.1" stroke="#231f20" stroke-width="0.8"/>
<text x="508.60" y="439.64" font-size="7.9" text-anchor="middle" fill="#231f20">ONT</text>
<text x="508.60" y="449.04" font-size="7.9" text-anchor="middle" fill="#231f20">dRNA</text>
<text x="508.60" y="458.44" font-size="7.9" text-anchor="middle" fill="#231f20">004</text>
<text x="508.60" y="467.84" font-size="7.9" text-anchor="middle" fill="#231f20">HG005</text>
<rect x="529.30" y="287.11" width="9.3" height="141.99" fill="#f29500" stroke="#2e2e2e" stroke-width="0.6"/>
<rect x="540.60" y="287.61" width="9.3" height="141.49" fill="#688fae" stroke="#2e2e2e" stroke-width="0.6"/>
<line x1="539.60" y1="429.1" x2="539.60" y2="431.1" stroke="#231f20" stroke-width="0.8"/>
<text x="539.60" y="439.64" font-size="7.9" text-anchor="middle" fill="#231f20">MAS-Seq</text>
<text x="539.60" y="449.04" font-size="7.9" text-anchor="middle" fill="#231f20">HG004</text>
<rect x="560.30" y="279.59" width="9.3" height="149.51" fill="#f29500" stroke="#2e2e2e" stroke-width="0.6"/>
<rect x="571.60" y="280.59" width="9.3" height="148.51" fill="#688fae" stroke="#2e2e2e" stroke-width="0.6"/>
<line x1="570.60" y1="429.1" x2="570.60" y2="431.1" stroke="#231f20" stroke-width="0.8"/>
<text x="570.60" y="439.64" font-size="7.9" text-anchor="middle" fill="#231f20">Iso-Seq</text>
<text x="570.60" y="449.04" font-size="7.9" text-anchor="middle" fill="#231f20">(BCM)</text>
<text x="570.60" y="458.44" font-size="7.9" text-anchor="middle" fill="#231f20">HG004</text>
<rect x="591.30" y="276.58" width="9.3" height="152.52" fill="#f29500" stroke="#2e2e2e" stroke-width="0.6"/>
<rect x="602.60" y="278.58" width="9.3" height="150.52" fill="#688fae" stroke="#2e2e2e" stroke-width="0.6"/>
<line x1="601.60" y1="429.1" x2="601.60" y2="431.1" stroke="#231f20" stroke-width="0.8"/>
<text x="601.60" y="439.64" font-size="7.9" text-anchor="middle" fill="#231f20">Iso-Seq</text>
<text x="601.60" y="449.04" font-size="7.9" text-anchor="middle" fill="#231f20">(BCM)</text>
<text x="601.60" y="458.44" font-size="7.9" text-anchor="middle" fill="#231f20">HG005</text>
<rect x="622.30" y="295.14" width="9.3" height="133.96" fill="#f29500" stroke="#2e2e2e" stroke-width="0.6"/>
<rect x="633.60" y="296.64" width="9.3" height="132.46" fill="#688fae" stroke="#2e2e2e" stroke-width="0.6"/>
<line x1="632.60" y1="429.1" x2="632.60" y2="431.1" stroke="#231f20" stroke-width="0.8"/>
<text x="632.60" y="439.64" font-size="7.9" text-anchor="middle" fill="#231f20">Iso-Seq</text>
<text x="632.60" y="449.04" font-size="7.9" text-anchor="middle" fill="#231f20">(Google)</text>
<text x="632.60" y="458.44" font-size="7.9" text-anchor="middle" fill="#231f20">HG004</text>
<rect x="653.30" y="293.63" width="9.3" height="135.47" fill="#f29500" stroke="#2e2e2e" stroke-width="0.6"/>
<rect x="664.60" y="295.64" width="9.3" height="133.46" fill="#688fae" stroke="#2e2e2e" stroke-width="0.6"/>
<line x1="663.60" y1="429.1" x2="663.60" y2="431.1" stroke="#231f20" stroke-width="0.8"/>
<text x="663.60" y="439.64" font-size="7.9" text-anchor="middle" fill="#231f20">Iso-Seq</text>
<text x="663.60" y="449.04" font-size="7.9" text-anchor="middle" fill="#231f20">(Google)</text>
<text x="663.60" y="458.44" font-size="7.9" text-anchor="middle" fill="#231f20">HG005</text>
<rect x="414.5" y="481.4" width="15.3" height="5.1" fill="#f29500" stroke="#2e2e2e" stroke-width="0.6"/>
<text x="436.00" y="486.84" font-size="7.9" fill="#231f20" textLength="91.8" lengthAdjust="spacing">With tagged by REDIportal</text>
<rect x="548" y="481.3" width="15.7" height="5.5" fill="#688fae" stroke="#2e2e2e" stroke-width="0.6"/>
<text x="569.80" y="486.85" font-size="8.2" fill="#231f20" textLength="111" lengthAdjust="spacing">Without tagged by REDIportal</text>
<text x="7.60" y="538.00" font-size="13.2" font-weight="bold" fill="#111">d</text>
<rect x="0" y="683.80" width="354.8" height="14" fill="#efefef"/>
<rect x="0" y="711.30" width="354.8" height="14" fill="#efefef"/>
<line x1="62.6" y1="638.80" x2="354.8" y2="638.80" stroke="#d9d9d9" stroke-width="0.8"/>
<line x1="62.6" y1="624.10" x2="354.8" y2="624.10" stroke="#d9d9d9" stroke-width="0.8"/>
<line x1="62.6" y1="609.40" x2="354.8" y2="609.40" stroke="#d9d9d9" stroke-width="0.8"/>
<line x1="62.6" y1="594.70" x2="354.8" y2="594.70" stroke="#d9d9d9" stroke-width="0.8"/>
<line x1="62.6" y1="580.00" x2="354.8" y2="580.00" stroke="#d9d9d9" stroke-width="0.8"/>
<line x1="62.6" y1="565.30" x2="354.8" y2="565.30" stroke="#d9d9d9" stroke-width="0.8"/>
<line x1="62.6" y1="653.5" x2="354.8" y2="653.5" stroke="#cfcfcf" stroke-width="0.8"/>
<line x1="62.6" y1="564.7" x2="62.6" y2="653.5" stroke="#555" stroke-width="0.8"/>
<line x1="60.4" y1="653.50" x2="62.6" y2="653.50" stroke="#555" stroke-width="0.8"/>
<text x="47.95" y="656.38" font-size="8.0" text-anchor="middle" fill="#231f20">0</text>
<line x1="60.4" y1="638.80" x2="62.6" y2="638.80" stroke="#555" stroke-width="0.8"/>
<text x="43.95" y="641.68" font-size="8.0" text-anchor="middle" fill="#231f20">2,000</text>
<line x1="60.4" y1="624.10" x2="62.6" y2="624.10" stroke="#555" stroke-width="0.8"/>
<text x="43.95" y="626.98" font-size="8.0" text-anchor="middle" fill="#231f20">4,000</text>
<line x1="60.4" y1="609.40" x2="62.6" y2="609.40" stroke="#555" stroke-width="0.8"/>
<text x="43.95" y="612.28" font-size="8.0" text-anchor="middle" fill="#231f20">6,000</text>
<line x1="60.4" y1="594.70" x2="62.6" y2="594.70" stroke="#555" stroke-width="0.8"/>
<text x="43.95" y="597.58" font-size="8.0" text-anchor="middle" fill="#231f20">8,000</text>
<line x1="60.4" y1="580.00" x2="62.6" y2="580.00" stroke="#555" stroke-width="0.8"/>
<text x="43.95" y="582.88" font-size="8.0" text-anchor="middle" fill="#231f20">10,000</text>
<line x1="60.4" y1="565.30" x2="62.6" y2="565.30" stroke="#555" stroke-width="0.8"/>
<text x="43.95" y="568.18" font-size="8.0" text-anchor="middle" fill="#231f20">12,000</text>
<text transform="translate(30.4,596.5) rotate(-90)" font-size="7.97" text-anchor="middle" fill="#231f20">Intersection size</text>
<text x="63.90" y="675.58" font-size="6.9" text-anchor="end" fill="#231f20">ONT</text>
<text x="63.90" y="682.28" font-size="6.9" text-anchor="end" fill="#231f20">dRNA</text>
<text x="64.70" y="690.38" font-size="6.9" text-anchor="end" fill="#231f20">Iso-Seq</text>
<text x="64.20" y="697.08" font-size="6.9" text-anchor="end" fill="#231f20">(BCM)</text>
<text x="64.70" y="704.18" font-size="6.9" text-anchor="end" fill="#231f20">Iso-Seq</text>
<text x="65.40" y="710.38" font-size="6.9" text-anchor="end" fill="#231f20">(Google)</text>
<text x="68.30" y="720.58" font-size="6.9" text-anchor="end" fill="#231f20">MAS-Seq</text>
<rect x="67.10" y="565.23" width="10" height="88.27" fill="#000"/>
<text x="74.00" y="563.33" font-size="7.8" text-anchor="middle" fill="#231f20">12,010</text>
<rect x="86.61" y="627.07" width="10" height="26.43" fill="#000"/>
<text x="91.61" y="625.17" font-size="7.8" text-anchor="middle" fill="#231f20">3,596</text>
<rect x="106.13" y="632.46" width="10" height="21.04" fill="#000"/>
<text x="111.13" y="630.56" font-size="7.8" text-anchor="middle" fill="#231f20">2,863</text>
<rect x="125.64" y="638.02" width="10" height="15.48" fill="#000"/>
<text x="130.64" y="636.12" font-size="7.8" text-anchor="middle" fill="#231f20">2,106</text>
<rect x="145.16" y="639.68" width="10" height="13.82" fill="#000"/>
<text x="150.16" y="637.78" font-size="7.8" text-anchor="middle" fill="#231f20">1,880</text>
<rect x="164.68" y="645.44" width="10" height="8.06" fill="#000"/>
<text x="169.68" y="643.54" font-size="7.8" text-anchor="middle" fill="#231f20">1,096</text>
<rect x="184.19" y="646.27" width="10" height="7.23" fill="#000"/>
<text x="189.19" y="644.37" font-size="7.8" text-anchor="middle" fill="#231f20">984</text>
<rect x="203.71" y="647.48" width="10" height="6.02" fill="#000"/>
<text x="208.71" y="645.58" font-size="7.8" text-anchor="middle" fill="#231f20">819</text>
<rect x="223.22" y="650.52" width="10" height="2.98" fill="#000"/>
<text x="228.22" y="648.62" font-size="7.8" text-anchor="middle" fill="#231f20">405</text>
<rect x="242.73" y="652.40" width="10" height="1.10" fill="#000"/>
<text x="247.73" y="650.50" font-size="7.8" text-anchor="middle" fill="#231f20">150</text>
<rect x="262.25" y="652.56" width="10" height="0.94" fill="#000"/>
<text x="267.25" y="650.66" font-size="7.8" text-anchor="middle" fill="#231f20">128</text>
<rect x="281.76" y="652.71" width="10" height="0.79" fill="#000"/>
<text x="286.76" y="650.81" font-size="7.8" text-anchor="middle" fill="#231f20">107</text>
<rect x="301.28" y="653.01" width="10" height="0.49" fill="#000"/>
<text x="306.28" y="651.11" font-size="7.8" text-anchor="middle" fill="#231f20">67</text>
<rect x="320.79" y="653.15" width="10" height="0.35" fill="#000"/>
<text x="325.79" y="651.25" font-size="7.8" text-anchor="middle" fill="#231f20">47</text>
<rect x="340.31" y="653.26" width="10" height="0.24" fill="#000"/>
<text x="345.31" y="651.36" font-size="7.8" text-anchor="middle" fill="#231f20">33</text>
<circle cx="72.10" cy="675.90" r="4.6" fill="#cfcfcf"/>
<circle cx="72.10" cy="690.60" r="4.6" fill="#cfcfcf"/>
<circle cx="72.10" cy="704.40" r="4.6" fill="#cfcfcf"/>
<circle cx="91.61" cy="675.90" r="4.6" fill="#cfcfcf"/>
<circle cx="91.61" cy="690.60" r="4.6" fill="#cfcfcf"/>
<circle cx="91.61" cy="718.10" r="4.6" fill="#cfcfcf"/>
<circle cx="111.13" cy="690.60" r="4.6" fill="#cfcfcf"/>
<circle cx="111.13" cy="704.40" r="4.6" fill="#cfcfcf"/>
<circle cx="111.13" cy="718.10" r="4.6" fill="#cfcfcf"/>
<circle cx="130.64" cy="675.90" r="4.6" fill="#cfcfcf"/>
<circle cx="130.64" cy="718.10" r="4.6" fill="#cfcfcf"/>
<circle cx="150.16" cy="675.90" r="4.6" fill="#cfcfcf"/>
<circle cx="150.16" cy="704.40" r="4.6" fill="#cfcfcf"/>
<circle cx="150.16" cy="718.10" r="4.6" fill="#cfcfcf"/>
<circle cx="169.68" cy="675.90" r="4.6" fill="#cfcfcf"/>
<circle cx="169.68" cy="690.60" r="4.6" fill="#cfcfcf"/>
<circle cx="189.19" cy="675.90" r="4.6" fill="#cfcfcf"/>
<circle cx="189.19" cy="704.40" r="4.6" fill="#cfcfcf"/>
<circle cx="208.71" cy="675.90" r="4.6" fill="#cfcfcf"/>
<circle cx="228.22" cy="690.60" r="4.6" fill="#cfcfcf"/>
<circle cx="228.22" cy="704.40" r="4.6" fill="#cfcfcf"/>
<circle cx="267.25" cy="690.60" r="4.6" fill="#cfcfcf"/>
<circle cx="286.76" cy="690.60" r="4.6" fill="#cfcfcf"/>
<circle cx="286.76" cy="718.10" r="4.6" fill="#cfcfcf"/>
<circle cx="306.28" cy="704.40" r="4.6" fill="#cfcfcf"/>
<circle cx="325.79" cy="718.10" r="4.6" fill="#cfcfcf"/>
<circle cx="345.31" cy="704.40" r="4.6" fill="#cfcfcf"/>
<circle cx="345.31" cy="718.10" r="4.6" fill="#cfcfcf"/>
<circle cx="72.10" cy="718.10" r="4.4" fill="#7a1f7c" stroke="#222" stroke-width="0.7"/>
<circle cx="91.61" cy="704.40" r="4.4" fill="#2a78b4" stroke="#222" stroke-width="0.7"/>
<circle cx="111.13" cy="675.90" r="4.4" fill="#36a036" stroke="#222" stroke-width="0.7"/>
<line x1="130.64" y1="690.60" x2="130.64" y2="704.40" stroke="#222" stroke-width="1.1"/>
<circle cx="130.64" cy="690.60" r="4.4" fill="#f08228" stroke="#222" stroke-width="0.7"/>
<circle cx="130.64" cy="704.40" r="4.4" fill="#2a78b4" stroke="#222" stroke-width="0.7"/>
<circle cx="150.16" cy="690.60" r="4.4" fill="#f08228" stroke="#222" stroke-width="0.7"/>
<line x1="169.68" y1="704.40" x2="169.68" y2="718.10" stroke="#222" stroke-width="1.1"/>
<circle cx="169.68" cy="704.40" r="4.4" fill="#2a78b4" stroke="#222" stroke-width="0.7"/>
<circle cx="169.68" cy="718.10" r="4.4" fill="#7a1f7c" stroke="#222" stroke-width="0.7"/>
<line x1="189.19" y1="690.60" x2="189.19" y2="718.10" stroke="#222" stroke-width="1.1"/>
<circle cx="189.19" cy="690.60" r="4.4" fill="#f08228" stroke="#222" stroke-width="0.7"/>
<circle cx="189.19" cy="718.10" r="4.4" fill="#7a1f7c" stroke="#222" stroke-width="0.7"/>
<line x1="208.71" y1="690.60" x2="208.71" y2="718.10" stroke="#222" stroke-width="1.1"/>
<circle cx="208.71" cy="690.60" r="4.4" fill="#f08228" stroke="#222" stroke-width="0.7"/>
<circle cx="208.71" cy="704.40" r="4.4" fill="#2a78b4" stroke="#222" stroke-width="0.7"/>
<circle cx="208.71" cy="718.10" r="4.4" fill="#7a1f7c" stroke="#222" stroke-width="0.7"/>
<line x1="228.22" y1="675.90" x2="228.22" y2="718.10" stroke="#222" stroke-width="1.1"/>
<circle cx="228.22" cy="675.90" r="4.4" fill="#36a036" stroke="#222" stroke-width="0.7"/>
<circle cx="228.22" cy="718.10" r="4.4" fill="#7a1f7c" stroke="#222" stroke-width="0.7"/>
<line x1="247.73" y1="675.90" x2="247.73" y2="718.10" stroke="#222" stroke-width="1.1"/>
<circle cx="247.73" cy="675.90" r="4.4" fill="#36a036" stroke="#222" stroke-width="0.7"/>
<circle cx="247.73" cy="690.60" r="4.4" fill="#f08228" stroke="#222" stroke-width="0.7"/>
<circle cx="247.73" cy="704.40" r="4.4" fill="#2a78b4" stroke="#222" stroke-width="0.7"/>
<circle cx="247.73" cy="718.10" r="4.4" fill="#7a1f7c" stroke="#222" stroke-width="0.7"/>
<line x1="267.25" y1="675.90" x2="267.25" y2="718.10" stroke="#222" stroke-width="1.1"/>
<circle cx="267.25" cy="675.90" r="4.4" fill="#36a036" stroke="#222" stroke-width="0.7"/>
<circle cx="267.25" cy="704.40" r="4.4" fill="#2a78b4" stroke="#222" stroke-width="0.7"/>
<circle cx="267.25" cy="718.10" r="4.4" fill="#7a1f7c" stroke="#222" stroke-width="0.7"/>
<line x1="286.76" y1="675.90" x2="286.76" y2="704.40" stroke="#222" stroke-width="1.1"/>
<circle cx="286.76" cy="675.90" r="4.4" fill="#36a036" stroke="#222" stroke-width="0.7"/>
<circle cx="286.76" cy="704.40" r="4.4" fill="#2a78b4" stroke="#222" stroke-width="0.7"/>
<line x1="306.28" y1="675.90" x2="306.28" y2="718.10" stroke="#222" stroke-width="1.1"/>
<circle cx="306.28" cy="675.90" r="4.4" fill="#36a036" stroke="#222" stroke-width="0.7"/>
<circle cx="306.28" cy="690.60" r="4.4" fill="#f08228" stroke="#222" stroke-width="0.7"/>
<circle cx="306.28" cy="718.10" r="4.4" fill="#7a1f7c" stroke="#222" stroke-width="0.7"/>
<line x1="325.79" y1="675.90" x2="325.79" y2="704.40" stroke="#222" stroke-width="1.1"/>
<circle cx="325.79" cy="675.90" r="4.4" fill="#36a036" stroke="#222" stroke-width="0.7"/>
<circle cx="325.79" cy="690.60" r="4.4" fill="#f08228" stroke="#222" stroke-width="0.7"/>
<circle cx="325.79" cy="704.40" r="4.4" fill="#2a78b4" stroke="#222" stroke-width="0.7"/>
<line x1="345.31" y1="675.90" x2="345.31" y2="690.60" stroke="#222" stroke-width="1.1"/>
<circle cx="345.31" cy="675.90" r="4.4" fill="#36a036" stroke="#222" stroke-width="0.7"/>
<circle cx="345.31" cy="690.60" r="4.4" fill="#f08228" stroke="#222" stroke-width="0.7"/>
<rect x="27.49" y="671.60" width="9.01" height="8.6" fill="#36a036"/>
<rect x="22.08" y="686.30" width="14.42" height="8.6" fill="#f08228"/>
<rect x="17.42" y="700.10" width="19.08" height="8.6" fill="#2a78b4"/>
<rect x="0.00" y="713.80" width="36.50" height="8.6" fill="#7a1f7c"/>
<text x="24.50" y="678.42" font-size="7.0" text-anchor="end" fill="#231f20">3,800</text>
<text x="19.20" y="693.12" font-size="7.0" text-anchor="end" fill="#231f20">6,086</text>
<text x="35.30" y="706.92" font-size="7.0" text-anchor="end" fill="#fff">8,049</text>
<text x="0.80" y="720.62" font-size="7.0" fill="#fff">15,659</text>
<line x1="36.5" y1="658" x2="36.5" y2="728.5" stroke="#9a9a9a" stroke-width="0.8"/>
<line x1="0" y1="728.2" x2="36.5" y2="728.2" stroke="#9a9a9a" stroke-width="0.8"/>
<line x1="13.4" y1="728.2" x2="13.4" y2="726.6" stroke="#9a9a9a" stroke-width="0.8"/>
<text x="15.80" y="735.72" font-size="7.55" text-anchor="middle" fill="#231f20">10000</text>
<text x="36.50" y="735.72" font-size="7.55" text-anchor="middle" fill="#231f20">0</text>
<text x="362.60" y="514.40" font-size="13.2" font-weight="bold" fill="#111">e</text>
<path d="M419.90,501.50 A55,55 0 1 1 365.20,550.75 L398.22,554.22 A21.8,21.8 0 1 0 419.90,534.70 Z" fill="#4f5a9f" stroke="#fff" stroke-width="0.5"/>
<path d="M365.20,550.75 A55,55 0 0 1 376.98,522.11 L402.89,542.87 A21.8,21.8 0 0 0 398.22,554.22 Z" fill="#4aa3d1" stroke="#fff" stroke-width="0.5"/>
<path d="M376.98,522.11 A55,55 0 0 1 386.65,512.69 L406.72,539.14 A21.8,21.8 0 0 0 402.89,542.87 Z" fill="#69aa87" stroke="#fff" stroke-width="0.5"/>
<path d="M386.65,512.69 A55,55 0 0 1 395.02,507.45 L410.04,537.06 A21.8,21.8 0 0 0 406.72,539.14 Z" fill="#2aae6e" stroke="#fff" stroke-width="0.5"/>
<path d="M395.02,507.45 A55,55 0 0 1 395.36,507.28 L410.17,536.99 A21.8,21.8 0 0 0 410.04,537.06 Z" fill="#6dc09f" stroke="#fff" stroke-width="0.5"/>
<path d="M395.36,507.28 A55,55 0 0 1 397.71,506.18 L411.10,536.55 A21.8,21.8 0 0 0 410.17,536.99 Z" fill="#a6b86a" stroke="#fff" stroke-width="0.5"/>
<path d="M397.71,506.18 A55,55 0 0 1 398.06,506.02 L411.24,536.49 A21.8,21.8 0 0 0 411.10,536.55 Z" fill="#e35b1f" stroke="#fff" stroke-width="0.5"/>
<path d="M398.06,506.02 A55,55 0 0 1 399.83,505.29 L411.95,536.20 A21.8,21.8 0 0 0 411.24,536.49 Z" fill="#f0963d" stroke="#fff" stroke-width="0.5"/>
<path d="M399.83,505.29 A55,55 0 0 1 401.81,504.56 L412.73,535.91 A21.8,21.8 0 0 0 411.95,536.20 Z" fill="#f8c085" stroke="#fff" stroke-width="0.5"/>
<path d="M401.81,504.56 A55,55 0 0 1 408.56,502.68 L415.40,535.17 A21.8,21.8 0 0 0 412.73,535.91 Z" fill="#fddfc4" stroke="#fff" stroke-width="0.5"/>
<path d="M408.56,502.68 A55,55 0 0 1 416.35,501.61 L418.49,534.75 A21.8,21.8 0 0 0 415.40,535.17 Z" fill="#d2d2d2" stroke="#fff" stroke-width="0.5"/>
<path d="M416.35,501.61 A55,55 0 0 1 418.65,501.51 L419.41,534.71 A21.8,21.8 0 0 0 418.49,534.75 Z" fill="#7d8480" stroke="#fff" stroke-width="0.5"/>
<path d="M418.65,501.51 A55,55 0 0 1 419.04,501.51 L419.56,534.70 A21.8,21.8 0 0 0 419.41,534.71 Z" fill="#5a5a5a" stroke="#fff" stroke-width="0.5"/>
<text x="419.90" y="555.08" font-size="8.0" text-anchor="middle" fill="#231f20">PacBio</text>
<text x="419.90" y="563.38" font-size="8.0" text-anchor="middle" fill="#231f20">variant</text>
<path d="M541.60,502.00 A54.5,54.5 0 0 1 548.53,610.56 L544.40,578.32 A22,22 0 0 0 541.60,534.50 Z" fill="#4f5a9f" stroke="#fff" stroke-width="0.5"/>
<path d="M548.53,610.56 A54.5,54.5 0 0 1 506.28,598.00 L527.34,573.25 A22,22 0 0 0 544.40,578.32 Z" fill="#4aa3d1" stroke="#fff" stroke-width="0.5"/>
<path d="M506.28,598.00 A54.5,54.5 0 0 1 498.19,589.45 L524.08,569.80 A22,22 0 0 0 527.34,573.25 Z" fill="#69aa87" stroke="#fff" stroke-width="0.5"/>
<path d="M498.19,589.45 A54.5,54.5 0 0 1 496.52,587.13 L523.40,568.87 A22,22 0 0 0 524.08,569.80 Z" fill="#2aae6e" stroke="#fff" stroke-width="0.5"/>
<path d="M496.52,587.13 A54.5,54.5 0 0 1 488.65,569.41 L520.23,561.71 A22,22 0 0 0 523.40,568.87 Z" fill="#6dc09f" stroke="#fff" stroke-width="0.5"/>
<path d="M488.65,569.41 A54.5,54.5 0 0 1 488.18,567.27 L520.03,560.85 A22,22 0 0 0 520.23,561.71 Z" fill="#a6b86a" stroke="#fff" stroke-width="0.5"/>
<path d="M488.18,567.27 A54.5,54.5 0 0 1 498.19,523.55 L524.08,543.20 A22,22 0 0 0 520.03,560.85 Z" fill="#e35b1f" stroke="#fff" stroke-width="0.5"/>
<path d="M498.19,523.55 A54.5,54.5 0 0 1 537.70,502.14 L540.03,534.56 A22,22 0 0 0 524.08,543.20 Z" fill="#f0963d" stroke="#fff" stroke-width="0.5"/>
<path d="M537.70,502.14 A54.5,54.5 0 0 1 539.60,502.04 L540.79,534.51 A22,22 0 0 0 540.03,534.56 Z" fill="#f8c085" stroke="#fff" stroke-width="0.5"/>
<path d="M539.60,502.04 A54.5,54.5 0 0 1 540.84,502.01 L541.29,534.50 A22,22 0 0 0 540.79,534.51 Z" fill="#fddfc4" stroke="#fff" stroke-width="0.5"/>
<path d="M540.84,502.01 A54.5,54.5 0 0 1 541.31,502.00 L541.48,534.50 A22,22 0 0 0 541.29,534.50 Z" fill="#d2d2d2" stroke="#fff" stroke-width="0.5"/>
<text x="541.60" y="555.08" font-size="8.0" text-anchor="middle" fill="#231f20">PacBio</text>
<text x="541.60" y="563.38" font-size="8.0" text-anchor="middle" fill="#231f20">editing</text>
<path d="M419.90,623.20 A55,55 0 1 1 414.53,732.94 L417.77,699.90 A21.8,21.8 0 1 0 419.90,656.40 Z" fill="#4f5a9f" stroke="#fff" stroke-width="0.5"/>
<path d="M414.53,732.94 A55,55 0 0 1 368.52,697.82 L399.53,685.98 A21.8,21.8 0 0 0 417.77,699.90 Z" fill="#4aa3d1" stroke="#fff" stroke-width="0.5"/>
<path d="M368.52,697.82 A55,55 0 0 1 365.89,667.80 L398.49,674.08 A21.8,21.8 0 0 0 399.53,685.98 Z" fill="#69aa87" stroke="#fff" stroke-width="0.5"/>
<path d="M365.89,667.80 A55,55 0 0 1 374.96,646.50 L402.09,665.63 A21.8,21.8 0 0 0 398.49,674.08 Z" fill="#2aae6e" stroke="#fff" stroke-width="0.5"/>
<path d="M374.96,646.50 A55,55 0 0 1 375.52,645.72 L402.31,665.32 A21.8,21.8 0 0 0 402.09,665.63 Z" fill="#6dc09f" stroke="#fff" stroke-width="0.5"/>
<path d="M375.52,645.72 A55,55 0 0 1 380.87,639.45 L404.43,662.84 A21.8,21.8 0 0 0 402.31,665.32 Z" fill="#a6b86a" stroke="#fff" stroke-width="0.5"/>
<path d="M380.87,639.45 A55,55 0 0 1 381.35,638.97 L404.62,662.65 A21.8,21.8 0 0 0 404.43,662.84 Z" fill="#e35b1f" stroke="#fff" stroke-width="0.5"/>
<path d="M381.35,638.97 A55,55 0 0 1 382.74,637.65 L405.17,662.13 A21.8,21.8 0 0 0 404.62,662.65 Z" fill="#f0963d" stroke="#fff" stroke-width="0.5"/>
<path d="M382.74,637.65 A55,55 0 0 1 385.74,635.10 L406.36,661.12 A21.8,21.8 0 0 0 405.17,662.13 Z" fill="#f8c085" stroke="#fff" stroke-width="0.5"/>
<path d="M385.74,635.10 A55,55 0 0 1 397.97,627.76 L411.21,658.21 A21.8,21.8 0 0 0 406.36,661.12 Z" fill="#fddfc4" stroke="#fff" stroke-width="0.5"/>
<path d="M397.97,627.76 A55,55 0 0 1 412.53,623.70 L416.98,656.60 A21.8,21.8 0 0 0 411.21,658.21 Z" fill="#d2d2d2" stroke="#fff" stroke-width="0.5"/>
<path d="M412.53,623.70 A55,55 0 0 1 418.27,623.22 L419.25,656.41 A21.8,21.8 0 0 0 416.98,656.60 Z" fill="#7d8480" stroke="#fff" stroke-width="0.5"/>
<path d="M418.27,623.22 A55,55 0 0 1 419.52,623.20 L419.75,656.40 A21.8,21.8 0 0 0 419.25,656.41 Z" fill="#5a5a5a" stroke="#fff" stroke-width="0.5"/>
<text x="419.90" y="675.38" font-size="8.0" text-anchor="middle" fill="#231f20">ONT</text>
<text x="419.90" y="683.88" font-size="8.0" text-anchor="middle" fill="#231f20">variant</text>
<path d="M541.60,623.70 A54.5,54.5 0 0 1 549.94,732.06 L544.97,699.94 A22,22 0 0 0 541.60,656.20 Z" fill="#4f5a9f" stroke="#fff" stroke-width="0.5"/>
<path d="M549.94,732.06 A54.5,54.5 0 0 1 505.77,719.27 L527.14,694.78 A22,22 0 0 0 544.97,699.94 Z" fill="#4aa3d1" stroke="#fff" stroke-width="0.5"/>
<path d="M505.77,719.27 A54.5,54.5 0 0 1 487.10,678.39 L519.60,678.28 A22,22 0 0 0 527.14,694.78 Z" fill="#69aa87" stroke="#fff" stroke-width="0.5"/>
<path d="M487.10,678.39 A54.5,54.5 0 0 1 491.40,656.99 L521.33,669.64 A22,22 0 0 0 519.60,678.28 Z" fill="#2aae6e" stroke="#fff" stroke-width="0.5"/>
<path d="M491.40,656.99 A54.5,54.5 0 0 1 500.34,642.59 L524.95,663.82 A22,22 0 0 0 521.33,669.64 Z" fill="#6dc09f" stroke="#fff" stroke-width="0.5"/>
<path d="M500.34,642.59 A54.5,54.5 0 0 1 509.18,634.39 L528.51,660.52 A22,22 0 0 0 524.95,663.82 Z" fill="#a6b86a" stroke="#fff" stroke-width="0.5"/>
<path d="M509.18,634.39 A54.5,54.5 0 0 1 517.62,629.26 L531.92,658.44 A22,22 0 0 0 528.51,660.52 Z" fill="#e35b1f" stroke="#fff" stroke-width="0.5"/>
<path d="M517.62,629.26 A54.5,54.5 0 0 1 525.94,626.00 L535.28,657.13 A22,22 0 0 0 531.92,658.44 Z" fill="#f0963d" stroke="#fff" stroke-width="0.5"/>
<path d="M525.94,626.00 A54.5,54.5 0 0 1 532.14,624.53 L537.78,656.53 A22,22 0 0 0 535.28,657.13 Z" fill="#f8c085" stroke="#fff" stroke-width="0.5"/>
<path d="M532.14,624.53 A54.5,54.5 0 0 1 536.19,623.97 L539.41,656.31 A22,22 0 0 0 537.78,656.53 Z" fill="#fddfc4" stroke="#fff" stroke-width="0.5"/>
<path d="M536.19,623.97 A54.5,54.5 0 0 1 539.32,623.75 L540.68,656.22 A22,22 0 0 0 539.41,656.31 Z" fill="#d2d2d2" stroke="#fff" stroke-width="0.5"/>
<path d="M539.32,623.75 A54.5,54.5 0 0 1 540.84,623.71 L541.29,656.20 A22,22 0 0 0 540.68,656.22 Z" fill="#7d8480" stroke="#fff" stroke-width="0.5"/>
<path d="M540.84,623.71 A54.5,54.5 0 0 1 541.41,623.70 L541.52,656.20 A22,22 0 0 0 541.29,656.20 Z" fill="#5a5a5a" stroke="#fff" stroke-width="0.5"/>
<text x="541.60" y="675.38" font-size="8.0" text-anchor="middle" fill="#231f20">ONT</text>
<text x="541.60" y="683.88" font-size="8.0" text-anchor="middle" fill="#231f20">editing</text>
<rect x="600.2" y="530.50" width="16.2" height="5.2" fill="#4f5a9f" stroke="#444" stroke-width="0.6"/>
<text x="618.40" y="535.28" font-size="8.0" fill="#231f20">Intron</text>
<rect x="600.2" y="544.48" width="16.2" height="5.2" fill="#4aa3d1" stroke="#444" stroke-width="0.6"/>
<text x="618.40" y="549.26" font-size="8.0" fill="#231f20">3'UTR</text>
<rect x="600.2" y="558.46" width="16.2" height="5.2" fill="#69aa87" stroke="#444" stroke-width="0.6"/>
<text x="618.40" y="563.24" font-size="8.0" fill="#231f20">3'Flank</text>
<rect x="600.2" y="572.44" width="16.2" height="5.2" fill="#2aae6e" stroke="#444" stroke-width="0.6"/>
<text x="618.40" y="577.22" font-size="8.0" fill="#231f20">5'Flank</text>
<rect x="600.2" y="586.42" width="16.2" height="5.2" fill="#6dc09f" stroke="#444" stroke-width="0.6"/>
<text x="618.40" y="591.20" font-size="8.0" fill="#231f20">Targeted region</text>
<rect x="600.2" y="600.40" width="16.2" height="5.2" fill="#a6b86a" stroke="#444" stroke-width="0.6"/>
<text x="618.40" y="605.18" font-size="8.0" fill="#231f20">RNA</text>
<rect x="600.2" y="614.38" width="16.2" height="5.2" fill="#e35b1f" stroke="#444" stroke-width="0.6"/>
<text x="618.40" y="619.16" font-size="8.0" fill="#231f20">Splice site</text>
<rect x="600.2" y="628.36" width="16.2" height="5.2" fill="#f0963d" stroke="#444" stroke-width="0.6"/>
<text x="618.40" y="633.14" font-size="8.0" fill="#231f20">Splice region</text>
<rect x="600.2" y="642.34" width="16.2" height="5.2" fill="#f8c085" stroke="#444" stroke-width="0.6"/>
<text x="618.40" y="647.12" font-size="8.0" fill="#231f20">IGR</text>
<rect x="600.2" y="656.32" width="16.2" height="5.2" fill="#fddfc4" stroke="#444" stroke-width="0.6"/>
<text x="618.40" y="661.10" font-size="8.0" fill="#231f20">Missense mutation</text>
<rect x="600.2" y="670.30" width="16.2" height="5.2" fill="#d2d2d2" stroke="#444" stroke-width="0.6"/>
<text x="618.40" y="675.08" font-size="8.0" fill="#231f20">Silent</text>
<rect x="600.2" y="684.28" width="16.2" height="5.2" fill="#7d8480" stroke="#444" stroke-width="0.6"/>
<text x="618.40" y="689.06" font-size="8.0" fill="#231f20">5'UTR</text>
<rect x="600.2" y="698.26" width="16.2" height="5.2" fill="#5a5a5a" stroke="#444" stroke-width="0.6"/>
<text x="618.40" y="703.04" font-size="8.0" fill="#231f20">Others</text>
</svg>
</body></html>
